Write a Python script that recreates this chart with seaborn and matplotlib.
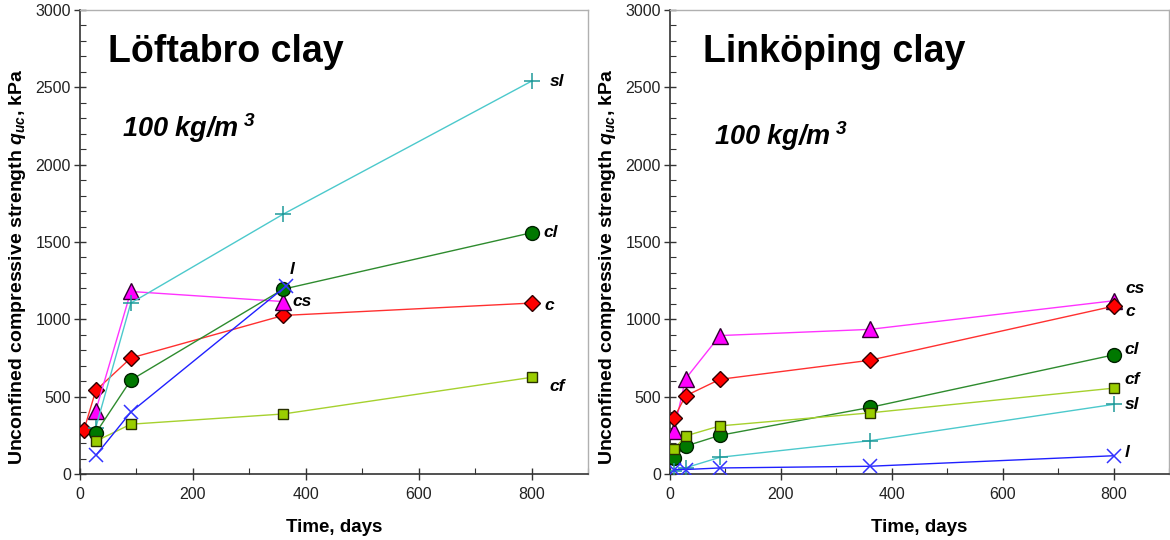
import matplotlib
matplotlib.use("Agg")
import matplotlib.pyplot as plt
from matplotlib.ticker import MultipleLocator
import pandas as pd
import seaborn as sns

# --- Löftabro clay, 100 kg/m3 -------------------------------------------
loft_days = {
    "c":  [7, 28, 90, 360, 800],
    "cs": [28, 90, 360],
    "sl": [28, 90, 360, 800],
    "cl": [28, 90, 360, 800],
    "cf": [28, 90, 360, 800],
    "l":  [28, 90, 365],
}
loft_quc = {
    "c":  [285, 540, 750, 1025, 1105],
    "cs": [410, 1180, 1115],
    "sl": [300, 1105, 1680, 2540],
    "cl": [265, 607, 1195, 1560],
    "cf": [212, 322, 388, 625],
    "l":  [120, 400, 1215],
}

# --- Linköping clay, 100 kg/m3 ------------------------------------------
link_days = [7, 28, 90, 360, 800]
link_quc = {
    "cs": [278, 615, 895, 935, 1120],
    "c":  [361, 505, 612, 735, 1085],
    "cl": [104, 180, 250, 430, 770],
    "cf": [159, 246, 311, 395, 555],
    "sl": [20, 40, 108, 215, 450],
    "l":  [29, 29, 39, 50, 118],
}

panel_titles = ["Löftabro clay", "Linköping clay"]
binder_amount = "100 kg/m$^{\\;3}$"
xlabel = "Time, days"
ylabel = "Unconfined compressive strength $q_{uc}$, kPa"

# line colour, marker, marker face, marker edge, marker size
styles = {
    "c":  dict(color="#ff3030", marker="D", mfc="#ff0000", mec="#300000", ms=8.5),
    "cs": dict(color="#ff33ff", marker="^", mfc="#ff00ff", mec="#300030", ms=11),
    "sl": dict(color="#4cc9cc", marker="+", mfc="#1f9a9a", mec="#1f9a9a", ms=12),
    "cl": dict(color="#2e8b2e", marker="o", mfc="#007800", mec="#002000", ms=10),
    "cf": dict(color="#a6d12e", marker="s", mfc="#9acd00", mec="#283000", ms=7.5),
    "l":  dict(color="#2020ff", marker="x", mfc="#3333ff", mec="#3333ff", ms=10),
}

# label offsets (pixels) from the last point of each series
loft_label_offsets = {
    "sl": (18, 0), "cl": (12, 0), "c": (13, -2),
    "cf": (18, -9), "cs": (9, 0), "l": (4, 17),
}
link_label_offsets = {
    "cs": (12, 12), "c": (12, -5), "cl": (11, 5),
    "cf": (11, 9), "sl": (11, 0), "l": (11, 3),
}

sns.set_theme(style="white")
plt.rcParams["font.family"] = ["Liberation Sans", "DejaVu Sans"]
plt.rcParams["mathtext.fontset"] = "custom"
plt.rcParams["mathtext.it"] = "Liberation Sans:italic:bold"
plt.rcParams["mathtext.rm"] = "Liberation Sans:italic:bold"
plt.rcParams["text.color"] = "black"
plt.rcParams["axes.labelcolor"] = "black"

fig = plt.figure(figsize=(11.7, 5.4), dpi=100)
ax_loft = fig.add_axes([80 / 1170, 66 / 540, 508 / 1170, 464 / 540])
ax_link = fig.add_axes([670 / 1170, 66 / 540, 499 / 1170, 464 / 540])


def draw_series(ax, key, days, values, offset):
    df = pd.DataFrame({"days": days, "quc": values})
    st = styles[key]
    sns.lineplot(
        data=df, x="days", y="quc", ax=ax,
        color=st["color"], linewidth=1.0, marker=st["marker"],
        markersize=st["ms"], markerfacecolor=st["mfc"],
        markeredgecolor=st["mec"],
        markeredgewidth=1.0 if st["marker"] not in "+x" else 1.1,
        zorder=3,
    )
    ax.annotate(
        key, xy=(days[-1], values[-1]), xytext=offset,
        textcoords="offset pixels", ha="left", va="center",
        fontsize=12.5, fontweight="bold", fontstyle="italic", color="black",
    )


for key in loft_quc:
    draw_series(ax_loft, key, loft_days[key], loft_quc[key], loft_label_offsets[key])
for key in link_quc:
    draw_series(ax_link, key, link_days, link_quc[key], link_label_offsets[key])

for ax, title, title_x, amount_pos, ylab_x in zip(
    [ax_loft, ax_link], panel_titles, [0.055, 0.066],
    [(0.083, 0.745), (0.088, 0.728)], [-0.102, -0.104]
):
    ax.set_xlim(0, 900)
    ax.set_ylim(0, 3000)
    ax.xaxis.set_major_locator(MultipleLocator(200))
    ax.xaxis.set_minor_locator(MultipleLocator(100))
    ax.yaxis.set_major_locator(MultipleLocator(500))
    ax.yaxis.set_minor_locator(MultipleLocator(100))
    ax.set_xticks([0, 200, 400, 600, 800])
    ax.tick_params(which="major", direction="inout", length=9, width=1.0,
                   color="#333333", labelsize=11.5, labelcolor="#222222",
                   pad=2, left=True, bottom=True)
    ax.tick_params(axis="x", which="major", pad=5)
    ax.tick_params(which="minor", direction="in", length=4, width=0.8,
                   color="#333333", left=True, bottom=True)
    for side in ("left", "bottom"):
        ax.spines[side].set_color("#333333")
        ax.spines[side].set_linewidth(1.2)
    for side in ("top", "right"):
        ax.spines[side].set_color("#b0b0b0")
        ax.spines[side].set_linewidth(1.0)
    ax.set_xlabel(xlabel, fontsize=13.5, fontweight="bold", labelpad=12,
                  color="black")
    ax.set_ylabel(ylabel, fontsize=14, fontweight="bold", color="black")
    ax.yaxis.set_label_coords(ylab_x, 0.446)
    ax.text(title_x, 0.889, title, transform=ax.transAxes, fontsize=27,
            fontweight="bold", ha="left", va="baseline", color="black")
    ax.text(amount_pos[0], amount_pos[1], binder_amount, transform=ax.transAxes,
            fontsize=19.5, fontweight="bold", fontstyle="italic",
            ha="left", va="center", color="black")
    ax.grid(False)

fig.savefig("out.png", dpi=100)
